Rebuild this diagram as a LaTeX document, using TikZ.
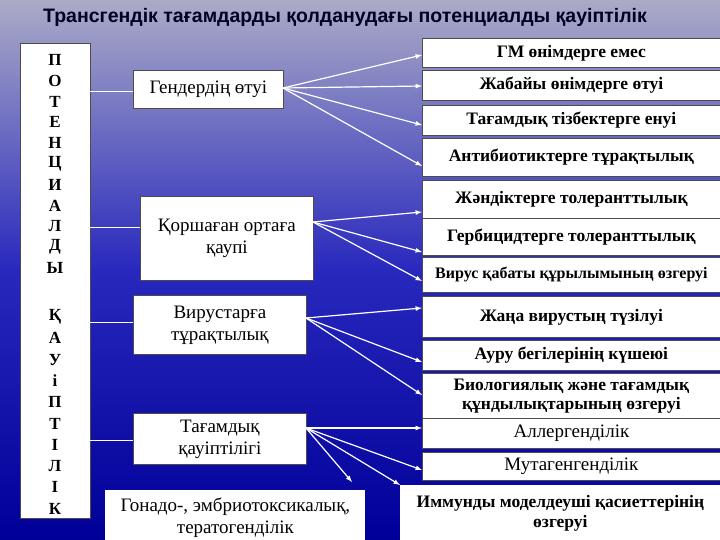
\documentclass[tikz,border=0pt]{standalone}
\usepackage{fontspec}
\setmainfont{Liberation Serif}
\newfontfamily\titlefont{Liberation Sans}
\begin{document}
\begin{tikzpicture}[x=1pt,y=-1pt,
  wbox/.style={draw=black!70,line width=0.8pt,fill=white,anchor=north west,inner sep=0pt,align=center,font=\fontsize{19}{22}\selectfont},
  rbox/.style={draw=black!70,line width=0.8pt,fill=white,anchor=north west,inner sep=0pt,align=center,font=\bfseries\fontsize{17.5}{20}\selectfont},
  arr/.style={white,line width=1.2pt,-latex},
  ln/.style={white,line width=1pt}]
\shade[top color=blue!20!gray!55!white,bottom color=blue!60!black,middle color=blue!65!gray!90!black] (0,0) rectangle (720,540);
\useasboundingbox (0,0) rectangle (720,540);
\node[font=\titlefont\bfseries\fontsize{19.5}{22}\selectfont,text=black!85!blue] (title) at (345,17) {Трансгендік тағамдарды қолданудағы потенциалды қауіптілік};
% left column
\node[draw=black!70,fill=white,minimum width=70,minimum height=475,anchor=north west,inner sep=0pt] (left) at (20,43) {};
\foreach \l [count=\i] in {П,О,Т,Е,Н,Ц,И,А,Л,Д,Ы}
  \node[font=\bfseries\fontsize{17}{17}\selectfont] (a\i) at (55,{60+20.8*(\i-1)}) {\l};
\foreach \l [count=\i] in {Қ,А,У,і,П,Т,І,Л,І,К}
  \node[font=\bfseries\fontsize{17}{17}\selectfont] (b\i) at (55,{317+21.3*(\i-1)}) {\l};
% middle boxes
\node[wbox,minimum width=150,minimum height=38] (m1) at (133,70) {Гендердің өтуі};
\node[wbox,minimum width=173,minimum height=84] (m2) at (140,196) {Қоршаған ортаға\\қаупі};
\node[wbox,minimum width=173,minimum height=59] (m3) at (133,295) {Вирустарға\\тұрақтылық};
\node[wbox,minimum width=173,minimum height=51] (m4) at (133,413) {Тағамдық\\қауіптілігі};
\node[wbox,minimum width=260,minimum height=55,draw=none] (m5) at (105,490) {Гонадо-, эмбриотоксикалық,\\тератогенділік};
% connectors from left
\coordinate (l1) at (90,92);\coordinate (l2) at (90,228);\coordinate (l3) at (90,322);\coordinate (l4) at (90,440);
\draw[ln] (l1) -- (m1.west|-l1);
\draw[ln] (l2) -- (m2.west|-l2);
\draw[ln] (l3) -- (m3.west|-l3);
\draw[ln] (l4) -- (m4.west|-l4);
% right boxes
\node[rbox,minimum width=298,minimum height=29] (r1) at (422,38) {ГМ өнімдерге емес};
\node[rbox,minimum width=298,minimum height=30] (r2) at (422,70) {Жабайы өнімдерге өтуі};
\node[rbox,minimum width=298,minimum height=30] (r3) at (422,105) {Тағамдық тізбектерге енуі};
\node[rbox,minimum width=298,minimum height=38] (r4) at (422,138) {Антибиотиктерге тұрақтылық};
\node[rbox,minimum width=298,minimum height=38] (r5) at (422,180) {Жәндіктерге толеранттылық};
\node[rbox,minimum width=298,minimum height=37] (r6) at (422,218) {Гербицидтерге толеранттылық};
\node[rbox,minimum width=298,minimum height=35,font=\bfseries\fontsize{16}{18}\selectfont] (r7) at (422,257) {Вирус қабаты құрылымының өзгеруі};
\node[rbox,minimum width=298,minimum height=41] (r8) at (422,296) {Жаңа вирустың түзілуі};
\node[rbox,minimum width=298,minimum height=30] (r9) at (422,340) {Ауру бегілерінің күшеюі};
\node[rbox,minimum width=298,minimum height=45,font=\bfseries\fontsize{17.5}{19}\selectfont] (r10) at (422,373) {Биологиялық және тағамдық\\құндылықтарының өзгеруі};
\node[wbox,minimum width=298,minimum height=30] (r11) at (422,418) {Аллергенділік};
\node[wbox,minimum width=298,minimum height=28] (r12) at (422,452) {Мутагенгенділік};
\node[rbox,draw=none,minimum width=320,minimum height=55] (r13) at (400,485) {Иммунды моделдеуші қасиеттерінің\\өзгеруі};
% arrows
\coordinate (s1) at (283,88);
\draw[arr] (s1) -- (r1.west|-0,55);
\draw[arr] (s1) -- (r2.west|-0,86);
\draw[arr] (s1) -- (r3.west|-0,125);
\draw[arr] (s1) -- (r4.west|-0,166);
\coordinate (s2) at (313,222);
\draw[arr] (s2) -- (r5.west|-0,212);
\draw[arr] (s2) -- (r6.west|-0,252);
\draw[arr] (s2) -- (r7.west|-0,281);
\coordinate (s3) at (306,318);
\draw[arr] (s3) -- (r8.west|-0,308);
\draw[arr] (s3) -- (r9.west|-0,362);
\draw[arr] (s3) -- (r10.west|-0,395);
\coordinate (s4) at (306,428);
\draw[arr] (s4) -- (r11.west|-0,428);
\draw[arr] (s4) -- (r12.west|-0,470);
\draw[arr] (s4) -- (r13.north west);
\draw[arr] (s4) -- (352,482);
\end{tikzpicture}
\end{document}
